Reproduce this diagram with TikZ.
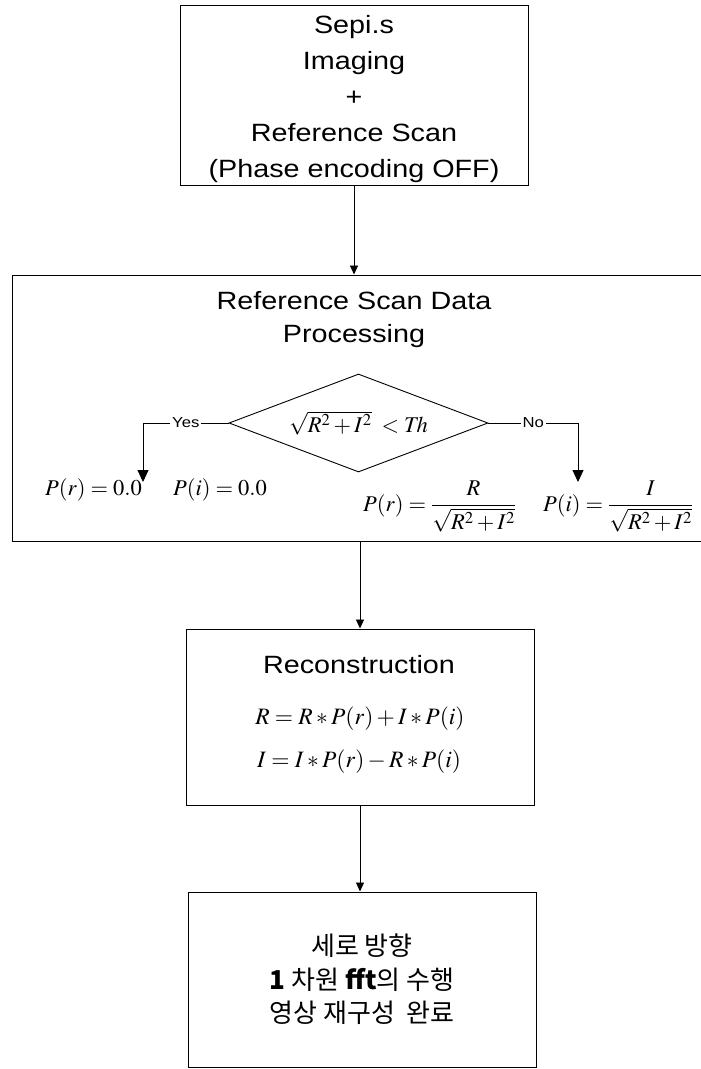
\documentclass[tikz,border=0pt]{standalone}
\usepackage{mathptmx}
\usepackage{fontspec}
\setmainfont{Liberation Serif}
\newfontfamily\headfont[FakeStretch=1.15]{Liberation Sans}
\newfontfamily\krfont{Noto Sans CJK KR}
\usetikzlibrary{arrows.meta,shapes.geometric}

\begin{document}
\begin{tikzpicture}[x=1pt,y=-1pt,
  box/.style={draw, line width=1pt, inner sep=0pt},
  head/.style={font=\headfont\fontsize{25}{36}\selectfont, align=center, inner sep=0pt},
  eq/.style={font=\fontsize{22.5}{27}\selectfont, inner sep=0pt},
  flow/.style={line width=0.9pt, -{Triangle[length=9pt,width=8pt]}},
  branch/.style={line width=0.9pt, -{Triangle[length=12pt,width=11pt]}},
  tag/.style={font=\headfont\fontsize{14.5}{16}\selectfont, fill=white, inner sep=2pt}]

\useasboundingbox (0,0) rectangle (701,1069);
\clip (0,0) rectangle (701,1069);
\fill[white] (0,0) rectangle (701,1069);

% acquisition step
\node[box, minimum width=348pt, minimum height=180pt] (b1) at (354,95) {};
\node[head] (t1) at (354,99) {Sepi.s\\Imaging\\+\\Reference Scan\\(Phase encoding OFF)};

% reference scan processing (box runs off the right edge)
\node[box, minimum width=712pt, minimum height=266pt] (b2) at (368,408) {};
\node[head, font=\headfont\fontsize{25}{33}\selectfont] (t2) at (354,320) {Reference Scan Data\\Processing};

\node[draw, diamond, aspect=2.6, minimum width=259pt, minimum height=98pt,
      inner sep=0pt, line width=0.9pt, eq] (d) at (358.5,423) {$\sqrt{R^2+I^2}\;<\mathit{Th}$};

\coordinate (yesC) at (143,423);
\coordinate (yesE) at (143,482);
\coordinate (noC) at (578,423);
\coordinate (noE) at (578,482);
\draw[branch] (d.west) -- node[tag]{Yes} (yesC) -- (yesE);
\draw[branch] (d.east) -- node[tag]{No} (noC) -- (noE);

\node[eq, anchor=base west] (pr0) at (45,495) {$P(r)=0.0$};
\node[eq, anchor=base west] (pi0) at (173,495) {$P(i)=0.0$};
\node[eq, anchor=base west] (prq) at (363,511) {$\displaystyle P(r)=\frac{R}{\sqrt{R^2+I^2}}$};
\node[eq, anchor=base west] (piq) at (543,511) {$\displaystyle P(i)=\frac{I}{\sqrt{R^2+I^2}}$};

% reconstruction
\node[box, minimum width=348pt, minimum height=176pt] (b3) at (360,717) {};
\node[head, anchor=base] (t3) at (359,673) {Reconstruction};
\node[eq, font=\fontsize{23.5}{28}\selectfont, anchor=base] (e1) at (360,724) {$R=R*P(r)+I*P(i)$};
\node[eq, font=\fontsize{23.5}{28}\selectfont, anchor=base] (e2) at (359,767) {$I=I*P(r)-R*P(i)$};

% final step
\node[box, minimum width=348pt, minimum height=175pt, align=center,
      font=\krfont\fontsize{26}{33.5}\selectfont] (b4) at (362,979.5)
      {세로 방향\\{\bfseries 1} 차원 {\bfseries fft}의 수행\\영상 재구성~~완료};

% connectors
\draw[flow] (b1.south) -- (b1.south |- b2.north);
\draw[flow] (b3.north |- b2.south) -- (b3.north);
\draw[flow] (b3.south) -- (b3.south |- b4.north);
\end{tikzpicture}
\end{document}
